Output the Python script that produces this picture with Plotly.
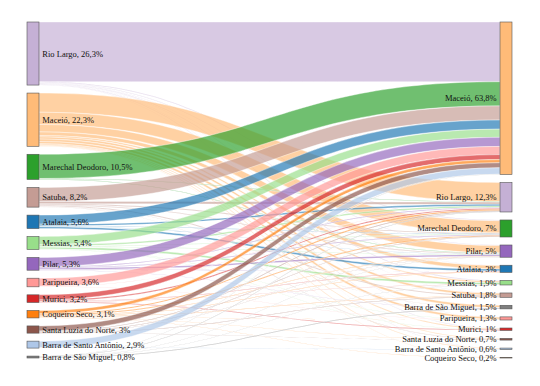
import plotly.graph_objects as go

# ---- data ----
left_labels = ["Rio Largo", "Maceió", "Marechal Deodoro", "Satuba", "Atalaia", "Messias", "Pilar",
               "Paripueira", "Murici", "Coqueiro Seco", "Santa Luzia do Norte",
               "Barra de Santo Antônio", "Barra de São Miguel"]
left_pct = ["26,3", "22,3", "10,5", "8,2", "5,6", "5,4", "5,3", "3,6", "3,2", "3,1", "3", "2,9", "0,8"]

right_labels = ["Maceió", "Rio Largo", "Marechal Deodoro", "Pilar", "Atalaia", "Messias", "Satuba",
                "Barra de São Miguel", "Paripueira", "Murici", "Santa Luzia do Norte",
                "Barra de Santo Antônio", "Coqueiro Seco"]
right_pct = ["63,8", "12,3", "7", "5", "3", "1,9", "1,8", "1,5", "1,3", "1", "0,7", "0,6", "0,2"]

city_colors = {
    "Rio Largo": "#c5b0d5", "Maceió": "#ffbb78", "Marechal Deodoro": "#2ca02c", "Satuba": "#c49c94",
    "Atalaia": "#1f77b4", "Messias": "#98df8a", "Pilar": "#9467bd", "Paripueira": "#ff9896",
    "Murici": "#d62728", "Coqueiro Seco": "#ff7f0e", "Santa Luzia do Norte": "#8c564b",
    "Barra de Santo Antônio": "#aec7e8", "Barra de São Miguel": "#7f7f7f",
}

# flows (origin -> destination, % of total)
flow_origin = (
    ["Rio Largo"] * 9 +
    ["Maceió"] * 12 +
    ["Marechal Deodoro"] * 3 +
    ["Satuba"] * 7 +
    ["Atalaia"] * 5 +
    ["Messias"] * 7 +
    ["Pilar"] * 6 +
    ["Paripueira"] * 3 +
    ["Murici"] * 5 +
    ["Coqueiro Seco"] * 9 +
    ["Santa Luzia do Norte"] * 6 +
    ["Barra de Santo Antônio"] * 2 +
    ["Barra de São Miguel"] * 5
)
flow_dest = [
    # Rio Largo
    "Maceió", "Marechal Deodoro", "Pilar", "Messias", "Paripueira", "Murici", "Satuba", "Barra de Santo Antônio", "Atalaia",
    # Maceió
    "Rio Largo", "Marechal Deodoro", "Pilar", "Atalaia", "Messias", "Satuba", "Barra de São Miguel", "Paripueira",
    "Murici", "Santa Luzia do Norte", "Barra de Santo Antônio", "Coqueiro Seco",
    # Marechal Deodoro
    "Maceió", "Rio Largo", "Pilar",
    # Satuba
    "Maceió", "Rio Largo", "Marechal Deodoro", "Pilar", "Satuba", "Santa Luzia do Norte", "Barra de São Miguel",
    # Atalaia
    "Maceió", "Rio Largo", "Atalaia", "Marechal Deodoro", "Pilar",
    # Messias
    "Maceió", "Rio Largo", "Messias", "Marechal Deodoro", "Pilar", "Murici", "Paripueira",
    # Pilar
    "Maceió", "Rio Largo", "Pilar", "Marechal Deodoro", "Atalaia", "Barra de São Miguel",
    # Paripueira
    "Maceió", "Paripueira", "Rio Largo",
    # Murici
    "Maceió", "Rio Largo", "Murici", "Atalaia", "Messias",
    # Coqueiro Seco
    "Maceió", "Rio Largo", "Marechal Deodoro", "Pilar", "Atalaia", "Satuba", "Paripueira", "Coqueiro Seco", "Santa Luzia do Norte",
    # Santa Luzia do Norte
    "Maceió", "Rio Largo", "Marechal Deodoro", "Pilar", "Santa Luzia do Norte", "Satuba",
    # Barra de Santo Antônio
    "Maceió", "Barra de Santo Antônio",
    # Barra de São Miguel
    "Maceió", "Barra de São Miguel", "Rio Largo", "Pilar", "Messias",
]
flow_value = [
    24.9, 0.3, 0.2, 0.3, 0.1, 0.2, 0.1, 0.1, 0.1,
    8.0, 5.1, 3.1, 1.5, 0.6, 0.9, 1.0, 0.9, 0.4, 0.3, 0.3, 0.1,
    10.1, 0.2, 0.2,
    5.9, 0.9, 0.4, 0.3, 0.4, 0.2, 0.1,
    3.8, 0.7, 0.8, 0.2, 0.1,
    3.4, 0.6, 0.8, 0.2, 0.2, 0.1, 0.1,
    3.8, 0.3, 0.6, 0.3, 0.2, 0.1,
    3.4, 0.1, 0.1,
    2.1, 0.5, 0.3, 0.2, 0.1,
    1.3, 0.5, 0.4, 0.2, 0.2, 0.2, 0.1, 0.1, 0.1,
    2.1, 0.3, 0.2, 0.1, 0.1, 0.2,
    2.7, 0.2,
    0.1, 0.3, 0.2, 0.1, 0.1,
]


def rgba(hex_color, a):
    h = hex_color.lstrip("#")
    r, g, b = int(h[0:2], 16), int(h[2:4], 16), int(h[4:6], 16)
    return f"rgba({r},{g},{b},{a})"


# ---- layout geometry ----
W, H = 540, 386
margin = dict(l=19, r=36, t=14, b=36)
plot_w = W - margin["l"] - margin["r"]
plot_h = H - margin["t"] - margin["b"]
pad = 8
thickness = 12

n_left = len(left_labels)
labels = [f"{c}, {p}%" for c, p in zip(left_labels, left_pct)] + \
         [f"{c}, {p}%" for c, p in zip(right_labels, right_pct)]
colors = [city_colors[c] for c in left_labels] + [city_colors[c] for c in right_labels]

src = [left_labels.index(o) for o in flow_origin]
tgt = [n_left + right_labels.index(d) for d in flow_dest]

left_tot = [sum(v for o, v in zip(flow_origin, flow_value) if o == c) for c in left_labels]
right_tot = [sum(v for d, v in zip(flow_dest, flow_value) if d == c) for c in right_labels]
ky = min((plot_h - (len(left_tot) - 1) * pad) / sum(left_tot),
         (plot_h - (len(right_tot) - 1) * pad) / sum(right_tot))


def centers(tots):
    ys, cur = [], 0.0
    for t in tots:
        h = t * ky
        ys.append((cur + h / 2) / plot_h)
        cur += h + pad
    return ys


xs = [thickness / 2 / plot_w] * n_left + [1 - thickness / 2 / plot_w] * len(right_labels)
ys = centers(left_tot) + centers(right_tot)
ys = [max(y, 0.0005) for y in ys]

serif = "Liberation Serif"

fig = go.Figure(go.Sankey(
    arrangement="fixed",
    node=dict(
        label=labels,
        color=colors,
        x=xs,
        y=ys,
        pad=pad,
        thickness=thickness,
        line=dict(color="#555555", width=0.6),
    ),
    link=dict(
        source=src,
        target=tgt,
        value=flow_value,
        color=[rgba(city_colors[o], 0.68) for o in flow_origin],
        line=dict(color="white", width=0.4),
    ),
    textfont=dict(family=serif, size=8.5, color="#111111", shadow="none"),
))

fig.update_layout(
    width=W, height=H,
    margin=margin,
    paper_bgcolor="white",
    font=dict(family=serif, size=8.5, color="#111111"),
)

fig.write_html("out.html")
